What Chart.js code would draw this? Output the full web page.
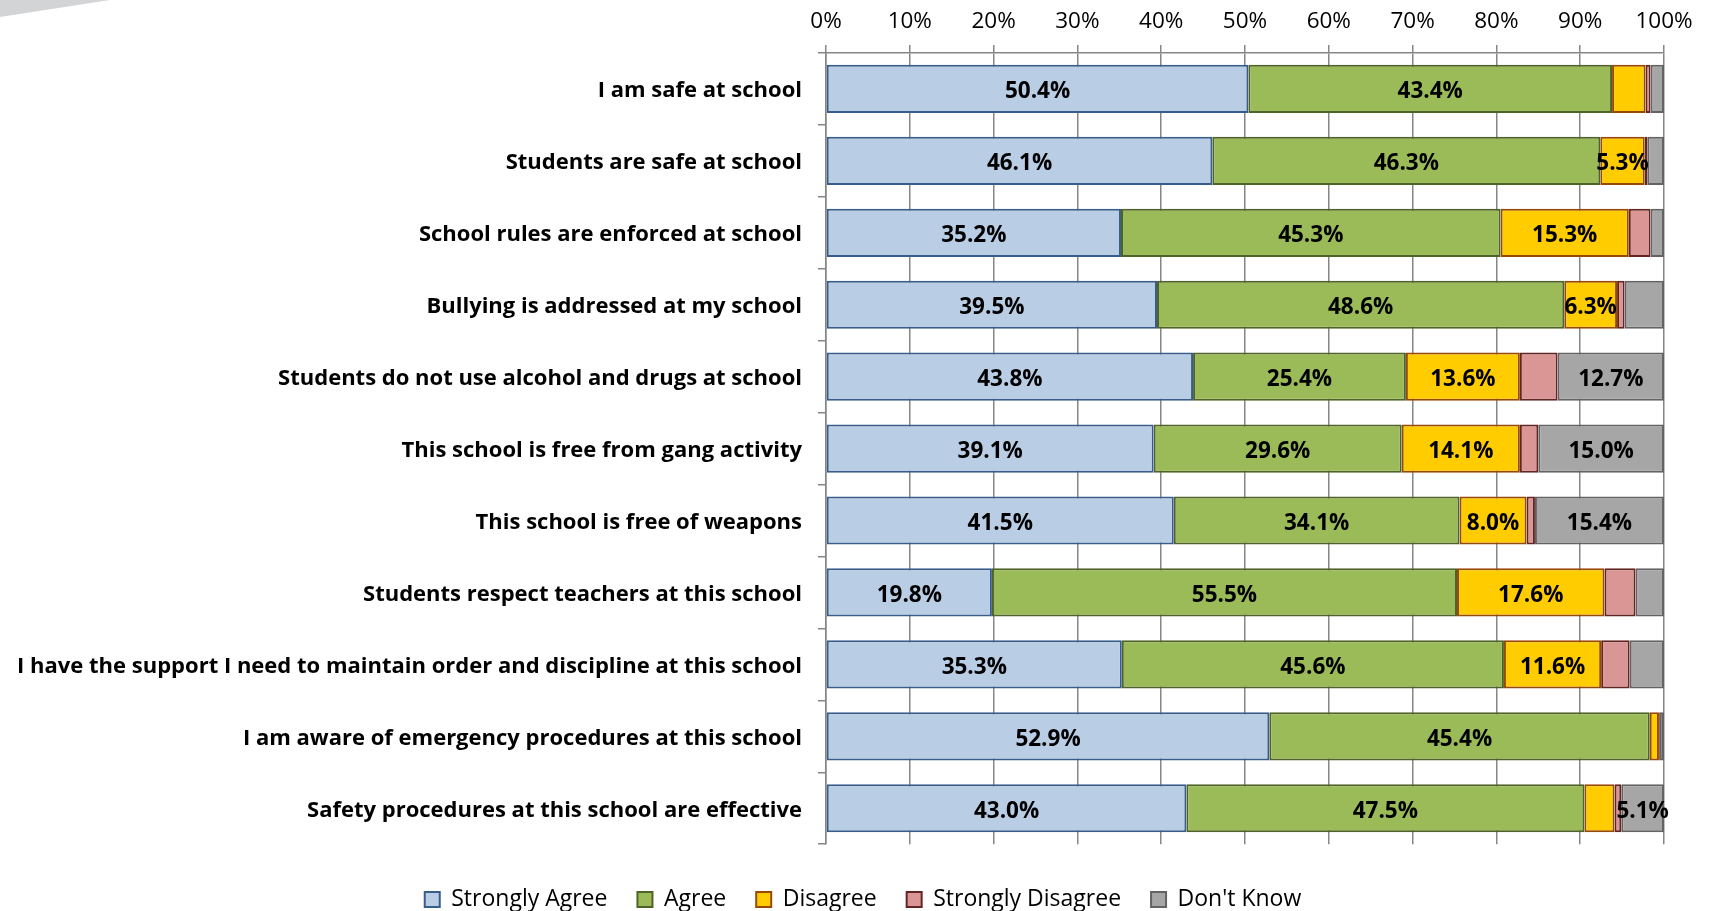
<!DOCTYPE html>
<html>
<head>
<meta charset="utf-8">
<script src="https://cdn.jsdelivr.net/npm/chart.js@4.4.1/dist/chart.umd.min.js"></script>
<style>
  html, body { margin: 0; padding: 0; background: #fff; }
  #contenedor { position: relative; width: 1709px; height: 911px; }
  #esquina { position: absolute; left: 0; top: 0; width: 110px; height: 17px; background: #d3d4d6;
    clip-path: polygon(0 0, 100% 0, 0 100%); }
</style>
</head>
<body>
<div id="contenedor">
  <canvas id="grafico" width="1709" height="911"></canvas>
  <div id="esquina"></div>
</div>
<script>
const categories = [
  "I am safe at school",
  "Students are safe at school",
  "School rules are enforced at school",
  "Bullying is addressed at my school",
  "Students do not use alcohol and drugs at school",
  "This school is free from gang activity",
  "This school is free of weapons",
  "Students respect teachers at this school",
  "I have the support I need to maintain order and discipline at this school",
  "I am aware of emergency procedures at this school",
  "Safety procedures at this school are effective"
];

const stronglyAgree    = [50.4, 46.1, 35.2, 39.5, 43.8, 39.1, 41.5, 19.8, 35.3, 52.9, 43.0];
const agree            = [43.4, 46.3, 45.3, 48.6, 25.4, 29.6, 34.1, 55.5, 45.6, 45.4, 47.5];
const disagree         = [4.0, 5.3, 15.3, 6.3, 13.6, 14.1, 8.0, 17.6, 11.6, 1.1, 3.6];
const stronglyDisagree = [0.6, 0.3, 2.6, 0.9, 4.5, 2.2, 1.0, 3.7, 3.4, 0.1, 0.8];
const dontKnow         = [1.6, 2.0, 1.6, 4.7, 12.7, 15.0, 15.4, 3.4, 4.1, 0.5, 5.1];

const xTicks = [0, 10, 20, 30, 40, 50, 60, 70, 80, 90, 100];

const fuente = "'Open Sans', Calibri, sans-serif";

// etiquetas de valor dentro de cada segmento (solo 5% o mas)
const etiquetasValor = {
  id: "etiquetasValor",
  afterLayout(chart) {
    // la leyenda del original esta un poco a la derecha del centro
    chart.legend.left += 31;
    chart.legend.right += 31;
  },
  afterDatasetsDraw(chart) {
    const ctx = chart.ctx;
    ctx.save();
    ctx.font = "bold 22.5px " + fuente;
    ctx.fillStyle = "#000";
    ctx.textAlign = "center";
    ctx.textBaseline = "middle";
    chart.data.datasets.forEach((ds, i) => {
      chart.getDatasetMeta(i).data.forEach((bar, j) => {
        const valor = ds.data[j];
        if (valor < 5) return;
        ctx.fillText(valor.toFixed(1) + "%", (bar.x + bar.base) / 2, bar.y + 3);
      });
    });
    ctx.restore();
  }
};

function serie(label, data, fondo, borde) {
  return {
    label,
    data,
    backgroundColor: fondo,
    borderColor: borde,
    borderWidth: 2,
    borderSkipped: false,
    barPercentage: 0.67,
    categoryPercentage: 1
  };
}

const contexto = document.getElementById("grafico").getContext("2d");

new Chart(contexto, {
  type: "bar",
  data: {
    labels: categories,
    datasets: [
      serie("Strongly Agree", stronglyAgree, "#B9CDE5", "#385D8A"),
      serie("Agree", agree, "#9BBB59", "#4F6228"),
      serie("Disagree", disagree, "#FFCC00", "#984807"),
      serie("Strongly Disagree", stronglyDisagree, "#D99694", "#632523"),
      serie("Don't Know", dontKnow, "#A6A6A6", "#636363")
    ]
  },
  options: {
    indexAxis: "y",
    responsive: false,
    animation: false,
    layout: { padding: { left: 0, right: 45, top: 0, bottom: -10 } },
    scales: {
      x: {
        position: "top",
        stacked: true,
        min: 0,
        max: 100,
        afterBuildTicks: (scale) => {
          scale.ticks = xTicks.map((v) => ({ value: v }));
        },
        afterFit: (scale) => { scale.height = 53; },
        ticks: {
          callback: (v) => v + "%",
          font: { family: fuente, size: 22.5 },
          color: "#000",
          padding: 10,
          maxRotation: 0
        },
        grid: { color: "#868686", lineWidth: 1.5, tickLength: 8 },
        border: { color: "#868686", width: 1.5 }
      },
      y: {
        stacked: true,
        afterFit: (scale) => { scale.width = 826; },
        ticks: {
          font: { family: fuente, size: 22, weight: "bold" },
          color: "#000",
          padding: 16,
          labelOffset: 2
        },
        grid: { drawOnChartArea: false, color: "#868686", lineWidth: 1.5, tickLength: 8 },
        border: { color: "#868686", width: 1.5 }
      }
    },
    plugins: {
      legend: {
        position: "bottom",
        title: { display: true, text: "", font: { size: 4 }, padding: 4.5 },
        labels: {
          boxWidth: 15,
          boxHeight: 15,
          font: { family: fuente, size: 23 },
          color: "#000",
          padding: 30
        }
      },
      tooltip: { enabled: false }
    }
  },
  plugins: [etiquetasValor]
});
</script>
</body>
</html>
